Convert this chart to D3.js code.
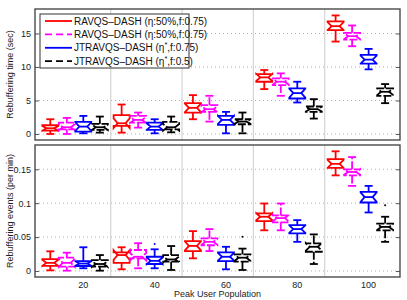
<!doctype html>
<html lang="en">
<head>
<meta charset="utf-8">
<script src="https://d3js.org/d3.v7.min.js"></script>
<style>
  body { margin: 0; background: #fff; }
  text { font-family: "Liberation Sans", Arial, sans-serif; }
</style>
</head>
<body>
<div id="chart"></div>
<script>
// x categories
var groups = [20, 40, 60, 80, 100];
var seriesNames = ["RAVQS\u2013DASH (\u03b7:50%,f:0.75)", "RAVQS\u2013DASH (\u03b7:50%,f:0.75)",
                   "JTRAVQS\u2013DASH (\u03b7", "JTRAVQS\u2013DASH (\u03b7"];
var seriesTail = ["", "", ",f:0.75)", ",f:0.5)"];
var colors = ["#ff0000", "#ff00ff", "#0000ff", "#000000"];
var dashed = [false, true, false, true];

// box stats per group: [low whisker, q1, median, q3, high whisker]
var timeRed     = [[0, 0.5, 0.85, 1.3, 2.2], [0.2, 1.2, 1.6, 2.8, 4.4], [2.2, 3.2, 3.9, 4.6, 5.8], [6.7, 7.8, 8.45, 8.95, 9.55], [13.8, 15.5, 16.1, 16.8, 17.7]];
var timeMagenta = [[0, 0.7, 1.0, 1.7, 2.4], [0.95, 1.7, 2.1, 2.7, 3.2], [1.85, 3.3, 3.7, 4.3, 5.7], [5.7, 7.3, 7.8, 8.3, 9.05], [13.1, 14.1, 14.6, 15.1, 16.2]];
var timeBlue    = [[0.1, 0.35, 1.1, 1.8, 2.7], [0.1, 0.6, 1.1, 1.7, 2.2], [0.1, 1.35, 2.1, 2.7, 3.3], [4.7, 5.3, 6.1, 6.8, 7.8], [9.65, 10.5, 11.1, 11.8, 12.7]];
var timeBlack   = [[0.2, 0.6, 1.0, 1.5, 2.6], [0.25, 0.7, 1.0, 1.8, 2.6], [0.1, 1.45, 1.85, 2.2, 3.2], [2.3, 3.3, 3.7, 4.1, 5.2], [4.6, 5.7, 6.3, 6.8, 7.45]];

var evRed     = [[0.001, 0.0075, 0.012, 0.0176, 0.029], [0.0025, 0.012, 0.0235, 0.0275, 0.035], [0.0187, 0.0294, 0.037, 0.044, 0.0588], [0.060, 0.0735, 0.08, 0.085, 0.0995], [0.141, 0.152, 0.158, 0.165, 0.1765]];
var evMagenta = [[0.0005, 0.0064, 0.012, 0.0196, 0.027], [0.004, 0.0187, 0.021, 0.031, 0.041], [0.0294, 0.038, 0.043, 0.048, 0.0618], [0.060, 0.0716, 0.078, 0.082, 0.0995], [0.1255, 0.141, 0.146, 0.15, 0.168]];
var evBlue    = [[0.004, 0.0074, 0.011, 0.0147, 0.035], [0.004, 0.0103, 0.015, 0.021, 0.032], [0.0025, 0.0147, 0.021, 0.0275, 0.0357], [0.043, 0.0554, 0.0618, 0.0676, 0.075], [0.0863, 0.101, 0.109, 0.1166, 0.1255]];
var evBlack   = [[0.0005, 0.0064, 0.0103, 0.016, 0.0235], [0.0015, 0.0137, 0.017, 0.0235, 0.0368], [0.0015, 0.0137, 0.0196, 0.0245, 0.033], [0.0103, 0.0284, 0.0357, 0.0407, 0.054], [0.043, 0.060, 0.065, 0.070, 0.080]];

// outliers: [series index, group, value]
var evOutliers = [[2, 40, 0.0397], [3, 60, 0.0505], [3, 100, 0.097]];

var timeTicks = [0, 5, 10, 15];
var evTicks = [0, 0.05, 0.1, 0.15];

var W = 407, H = 300;
var left = 35, right = 400;
var svg = d3.select("#chart").append("svg").attr("width", W).attr("height", H);

// offsets of the four boxes around each group value
var offsets = [-9.26, -4.63, 0, 4.63];
var x = d3.scaleLinear().domain([6.45, 108.8]).range([left, right]);
var boxW = 16, capW = 8;

function drawPanel(top, bottom, domain, ticks, fmt, series, outliers, ylabel) {
  var y = d3.scaleLinear().domain(domain).range([bottom, top]);
  var g = svg.append("g");

  // horizontal dotted grid
  g.selectAll(".hg").data(ticks).enter().append("line")
    .attr("x1", left).attr("x2", right)
    .attr("y1", d => y(d)).attr("y2", d => y(d))
    .attr("stroke", "#b0b0b0").attr("stroke-width", 1).attr("stroke-dasharray", "1,3");

  // vertical grid between groups
  var sep = groups.slice(0, -1).map(d => (d + offsets[3] + d + 20 + offsets[0]) / 2);
  g.selectAll(".vg").data(sep).enter().append("line")
    .attr("x1", d => x(d)).attr("x2", d => x(d))
    .attr("y1", top).attr("y2", bottom)
    .attr("stroke", "#d4d4d4").attr("stroke-width", 1.2);

  // boxes
  series.forEach(function (s, si) {
    s.forEach(function (st, gi) {
      var cx = x(groups[gi] + offsets[si]);
      var lo = st[0], q1 = st[1], med = st[2], q3 = st[3], hi = st[4];
      var nh = 0.45 * (q3 - q1);
      var L = cx - boxW / 2, R = cx + boxW / 2, ins = boxW * 0.25;
      var pts = [[L, y(q1)], [L, y(med - nh)], [L + ins, y(med)], [L, y(med + nh)], [L, y(q3)],
                 [R, y(q3)], [R, y(med + nh)], [R - ins, y(med)], [R, y(med - nh)], [R, y(q1)]];
      var bg = g.append("g")
        .attr("stroke", colors[si]).attr("fill", "none").attr("stroke-width", 1.8)
        .attr("stroke-dasharray", dashed[si] ? "8,2" : null);
      bg.append("path").attr("d", d3.line()(pts) + "Z");
      bg.append("line").attr("x1", L + ins).attr("x2", R - ins).attr("y1", y(med)).attr("y2", y(med));
      bg.append("line").attr("x1", cx).attr("x2", cx).attr("y1", y(q3)).attr("y2", y(hi));
      bg.append("line").attr("x1", cx).attr("x2", cx).attr("y1", y(q1)).attr("y2", y(lo));
      bg.append("line").attr("x1", cx - capW / 2).attr("x2", cx + capW / 2).attr("y1", y(hi)).attr("y2", y(hi))
        .attr("stroke-dasharray", null);
      bg.append("line").attr("x1", cx - capW / 2).attr("x2", cx + capW / 2).attr("y1", y(lo)).attr("y2", y(lo))
        .attr("stroke-dasharray", null);
    });
  });

  g.selectAll(".out").data(outliers).enter().append("circle")
    .attr("cx", d => x(d[1] + offsets[d[0]])).attr("cy", d => y(d[2]))
    .attr("r", 1).attr("fill", d => colors[d[0]]);

  // axes: left ticks labelled, right ticks inward
  var yl = g.append("g").attr("transform", "translate(" + left + ",0)")
    .call(d3.axisLeft(y).tickValues(ticks).tickFormat(fmt).tickSize(-4).tickPadding(4));
  var yr = g.append("g").attr("transform", "translate(" + right + ",0)")
    .call(d3.axisRight(y).tickValues(ticks).tickFormat("").tickSize(-4));
  [yl, yr].forEach(function (a) {
    a.select(".domain").remove();
    a.selectAll("line").attr("stroke", "#555");
    a.selectAll("text").attr("font-size", 9).attr("fill", "#222")
      .style("font-family", "'Liberation Sans', Arial, sans-serif");
  });

  g.append("rect").attr("x", left).attr("y", top).attr("width", right - left).attr("height", bottom - top)
    .attr("fill", "none").attr("stroke", "#4a4a4a").attr("stroke-width", 1.4);

  g.append("text")
    .attr("transform", "translate(13," + (top + bottom) / 2 + ") rotate(-90)")
    .attr("text-anchor", "middle").attr("font-size", 9).attr("fill", "#222")
    .text(ylabel);
  return y;
}

drawPanel(9, 140, [-0.9, 18.66], timeTicks, d3.format("d"),
  [timeRed, timeMagenta, timeBlue, timeBlack], [], "Rebuffering time (sec)");
drawPanel(145, 277, [-0.00885, 0.1858], evTicks, d => d === 0 ? "0" : String(d),
  [evRed, evMagenta, evBlue, evBlack], evOutliers, "Rebuffering events (per min)");

// x tick labels
svg.selectAll(".xl").data(groups).enter().append("text")
  .attr("x", d => x(d)).attr("y", 288).attr("text-anchor", "middle")
  .attr("font-size", 9).attr("fill", "#222").text(d => d);
svg.append("text").attr("x", (left + right) / 2).attr("y", 297).attr("text-anchor", "middle")
  .attr("font-size", 9).attr("fill", "#222").text("Peak User Population");

// legend
var lg = svg.append("g");
lg.append("rect").attr("x", 40).attr("y", 14).attr("width", 149).attr("height", 54)
  .attr("fill", "#fff").attr("stroke", "#333").attr("stroke-width", 1);
seriesNames.forEach(function (name, i) {
  var ly = 21 + i * 13.4;
  lg.append("line").attr("x1", 45).attr("x2", 72).attr("y1", ly).attr("y2", ly)
    .attr("stroke", colors[i]).attr("stroke-width", 1.8)
    .attr("stroke-dasharray", dashed[i] ? "7,4" : null);
  var t = lg.append("text").attr("x", 74).attr("y", ly + 3.5).attr("font-size", 10).attr("fill", "#111");
  t.append("tspan").text(name);
  if (seriesTail[i]) {
    t.append("tspan").attr("dy", -4).attr("font-size", 7.5).text("*");
    t.append("tspan").attr("dy", 4).text(seriesTail[i]);
  }
});
</script>
</body>
</html>
